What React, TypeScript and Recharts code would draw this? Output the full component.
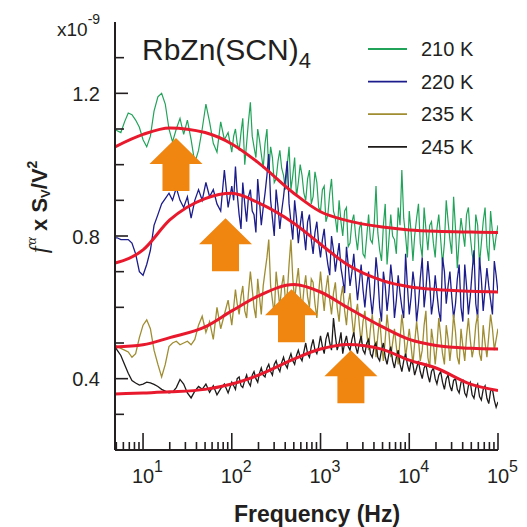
import React from 'react';
import { LineChart, Line, XAxis, YAxis, ReferenceDot, Customized } from 'recharts';

// ---- data ----
const FREQ = [
  4.83, 5.11, 5.62, 6.19, 6.81, 7.5, 8.25, 9.09,
  10, 11, 12.1, 13.3, 14.7, 16.2, 17.8, 19.6, 21.5, 23.7, 26.1, 28.7, 31.6, 34.8, 38.3, 42.2, 46.4, 51.1, 56.2, 61.9, 68.1, 75, 82.5, 90.9,
  100, 105, 110, 115, 121, 127, 133, 140, 147, 154, 162, 170, 178, 187, 196, 205, 215, 226, 237, 249, 261, 274, 287, 301,
  316, 332, 348, 365, 383, 402, 422, 442, 464, 487, 511, 536, 562, 590, 619, 649, 681, 715, 750, 787, 825, 866, 909, 953,
  1000, 1050, 1100, 1150, 1210, 1270, 1330, 1400, 1470, 1540, 1620, 1700, 1780, 1870, 1960, 2050, 2150, 2260, 2370, 2490, 2610, 2740, 2870, 3010,
  3160, 3320, 3480, 3650, 3830, 4020, 4220, 4420, 4640, 4870, 5110, 5360, 5620, 5900, 6190, 6490, 6810, 7150, 7500, 7870, 8250, 8660, 9090, 9530,
  10000, 10500, 11000, 11500, 12100, 12700, 13300, 14000, 14700, 15400, 16200, 17000, 17800, 18700, 19600, 20500, 21500, 22600, 23700, 24900, 26100, 27400, 28700, 30100,
  31600, 33200, 34800, 36500, 38300, 40200, 42200, 44200, 46400, 48700, 51100, 53600, 56200, 59000, 61900, 64900, 68100, 71500, 75000, 78700, 82500, 86600, 90900, 95300,
  100000,
];

const S210 = [
  1.10, 1.095, 1.09, 1.12, 1.145, 1.14, 1.125, 1.105,
  1.07, 1.05, 1.08, 1.15, 1.19, 1.20, 1.17, 1.10, 1.064, 1.10, 1.13, 1.085, 1.125, 1.07, 1.005, 1.04, 1.10, 1.17, 1.12, 1.06, 1.035, 1.12, 1.07, 1.09,
  1.035, 1.08, 1.10, 1.06, 1.04, 1.09, 1.13, 1.00, 1.06, 1.12, 1.175, 1.08, 1.05, 1.02, 1.10, 1.07, 1.03, 0.99, 1.06, 1.10, 0.98, 1.05, 1.02, 0.95,
  0.96, 1.01, 1.04, 0.99, 0.97, 0.93, 1.00, 1.05, 0.93, 0.97, 1.02, 0.91, 0.95, 1.00, 0.97, 0.92, 0.90, 0.96, 0.985, 0.89, 0.91, 0.98, 0.95, 0.88,
  0.87, 0.93, 0.94, 0.84, 0.86, 0.92, 0.96, 0.87, 0.85, 0.81, 0.90, 0.84, 0.80, 0.87, 0.88, 0.77, 0.78, 0.84, 0.86, 0.80, 0.76, 0.82, 0.84, 0.75,
  0.74, 0.80, 0.86, 0.79, 0.78, 0.83, 0.94, 0.81, 0.76, 0.73, 0.83, 0.89, 0.72, 0.79, 0.86, 0.80, 0.79, 0.75, 0.88, 0.83, 0.985, 0.85, 0.80, 0.74,
  0.87, 0.81, 0.73, 0.80, 0.85, 0.89, 0.78, 0.74, 0.88, 0.82, 0.76, 0.83, 0.84, 0.78, 0.74, 0.82, 0.86, 0.79, 0.72, 0.78, 0.90, 0.84, 0.79, 0.75,
  0.91, 0.82, 0.71, 0.79, 0.85, 0.81, 0.77, 0.86, 0.88, 0.80, 0.75, 0.72, 0.86, 0.83, 0.72, 0.78, 0.84, 0.88, 0.77, 0.73, 0.87, 0.81, 0.76, 0.80,
  0.83,
];

const S220 = [
  0.795, 0.795, 0.79, 0.79, 0.79, 0.78, 0.75, 0.70,
  0.69, 0.72, 0.76, 0.83, 0.86, 0.89, 0.905, 0.92, 0.90, 0.935, 0.90, 0.88, 0.91, 0.85, 0.90, 0.93, 0.90, 0.95, 0.91, 0.93, 0.89, 0.87, 0.985, 0.88,
  0.94, 0.90, 0.995, 0.92, 0.86, 0.82, 0.95, 0.89, 0.84, 0.91, 0.93, 0.87, 0.86, 0.81, 0.96, 0.90, 0.83, 0.88, 0.92, 0.97, 1.03, 0.90, 0.85, 0.80,
  0.93, 0.88, 0.82, 0.87, 0.91, 0.96, 1.01, 0.89, 0.84, 0.79, 0.90, 0.85, 0.78, 0.83, 0.87, 0.81, 0.76, 0.84, 0.86, 0.79, 0.75, 0.81, 0.84, 0.78,
  0.74, 0.79, 0.82, 0.76, 0.72, 0.69, 0.80, 0.76, 0.70, 0.74, 0.78, 0.71, 0.68, 0.64, 0.77, 0.72, 0.66, 0.70, 0.75, 0.68, 0.62, 0.67, 0.72, 0.65,
  0.60, 0.66, 0.70, 0.63, 0.58, 0.64, 0.74, 0.69, 0.60, 0.56, 0.70, 0.66, 0.59, 0.64, 0.72, 0.67, 0.57, 0.62, 0.69, 0.64, 0.60, 0.57, 0.75, 0.66,
  0.58, 0.63, 0.70, 0.66, 0.56, 0.61, 0.68, 0.74, 0.60, 0.65, 0.73, 0.67, 0.58, 0.62, 0.69, 0.64, 0.59, 0.56, 0.74, 0.70, 0.61, 0.66, 0.70, 0.63,
  0.57, 0.61, 0.68, 0.72, 0.60, 0.56, 0.72, 0.66, 0.58, 0.63, 0.70, 0.76, 0.61, 0.57, 0.74, 0.68, 0.59, 0.65, 0.71, 0.66, 0.62, 0.58, 0.73, 0.69,
  0.64,
];

const S235 = [
  0.495, 0.49, 0.485, 0.48, 0.475, 0.46, 0.47, 0.515,
  0.55, 0.565, 0.54, 0.48, 0.44, 0.405, 0.44, 0.49, 0.50, 0.505, 0.495, 0.50, 0.505, 0.495, 0.51, 0.55, 0.575, 0.53, 0.56, 0.51, 0.60, 0.54, 0.58, 0.62,
  0.55, 0.60, 0.65, 0.61, 0.58, 0.63, 0.66, 0.59, 0.57, 0.64, 0.70, 0.65, 0.60, 0.57, 0.68, 0.63, 0.58, 0.66, 0.70, 0.74, 0.79, 0.66, 0.62, 0.58,
  0.70, 0.65, 0.60, 0.66, 0.69, 0.62, 0.64, 0.72, 0.79, 0.68, 0.62, 0.67, 0.71, 0.64, 0.59, 0.65, 0.69, 0.63, 0.60, 0.68, 0.67, 0.61, 0.57, 0.64,
  0.70, 0.64, 0.59, 0.65, 0.69, 0.62, 0.58, 0.64, 0.67, 0.60, 0.56, 0.63, 0.66, 0.59, 0.55, 0.61, 0.64, 0.57, 0.52, 0.58, 0.61, 0.55, 0.50, 0.56,
  0.59, 0.53, 0.48, 0.54, 0.58, 0.52, 0.46, 0.52, 0.57, 0.50, 0.45, 0.51, 0.58, 0.53, 0.46, 0.50, 0.54, 0.49, 0.44, 0.51, 0.58, 0.53, 0.46, 0.50,
  0.54, 0.49, 0.44, 0.50, 0.56, 0.51, 0.45, 0.48, 0.55, 0.59, 0.46, 0.43, 0.54, 0.50, 0.44, 0.49, 0.57, 0.52, 0.47, 0.44, 0.55, 0.51, 0.45, 0.50,
  0.58, 0.53, 0.46, 0.44, 0.54, 0.49, 0.45, 0.52, 0.57, 0.51, 0.46, 0.49, 0.55, 0.58, 0.47, 0.45, 0.55, 0.50, 0.46, 0.52, 0.58, 0.54, 0.48, 0.51,
  0.54,
];

const S245 = [
  0.49, 0.48, 0.465, 0.44, 0.415, 0.395, 0.388, 0.382,
  0.385, 0.39, 0.388, 0.384, 0.378, 0.37, 0.365, 0.36, 0.362, 0.375, 0.398, 0.385, 0.36, 0.346, 0.365, 0.378, 0.37, 0.385, 0.362, 0.38, 0.355, 0.372, 0.385, 0.36,
  0.39, 0.38, 0.37, 0.40, 0.405, 0.38, 0.375, 0.395, 0.41, 0.39, 0.38, 0.41, 0.42, 0.40, 0.39, 0.415, 0.43, 0.41, 0.405, 0.43, 0.44, 0.42, 0.41, 0.44,
  0.45, 0.43, 0.42, 0.445, 0.46, 0.44, 0.43, 0.455, 0.47, 0.45, 0.44, 0.465, 0.48, 0.46, 0.45, 0.475, 0.50, 0.47, 0.46, 0.49, 0.51, 0.48, 0.47, 0.49,
  0.52, 0.49, 0.47, 0.51, 0.53, 0.50, 0.48, 0.57, 0.52, 0.48, 0.50, 0.53, 0.47, 0.50, 0.52, 0.49, 0.48, 0.51, 0.53, 0.49, 0.47, 0.50, 0.52, 0.48,
  0.47, 0.50, 0.51, 0.47, 0.46, 0.49, 0.50, 0.46, 0.45, 0.48, 0.50, 0.46, 0.44, 0.47, 0.49, 0.45, 0.43, 0.46, 0.48, 0.44, 0.42, 0.45, 0.47, 0.44,
  0.42, 0.45, 0.44, 0.41, 0.43, 0.45, 0.42, 0.40, 0.43, 0.44, 0.41, 0.39, 0.42, 0.43, 0.40, 0.385, 0.41, 0.42, 0.39, 0.37, 0.40, 0.41, 0.38, 0.365,
  0.395, 0.40, 0.37, 0.36, 0.39, 0.395, 0.36, 0.35, 0.38, 0.39, 0.355, 0.345, 0.375, 0.385, 0.35, 0.34, 0.37, 0.38, 0.345, 0.33, 0.365, 0.37, 0.34, 0.32,
  0.335,
];

const FIT_FREQ = [4.83, 10, 20, 50, 100, 200, 500, 1000, 2000, 5000, 10000, 20000, 50000, 100000];
const FIT210 = [1.05, 1.085, 1.103, 1.09, 1.058, 1.005, 0.92, 0.868, 0.843, 0.825, 0.817, 0.813, 0.811, 0.81];
const FIT220 = [0.724, 0.761, 0.845, 0.905, 0.92, 0.893, 0.836, 0.777, 0.72, 0.675, 0.658, 0.65, 0.645, 0.643];
const FIT235 = [0.489, 0.495, 0.515, 0.545, 0.59, 0.632, 0.664, 0.643, 0.60, 0.545, 0.51, 0.493, 0.485, 0.483];
const FIT245 = [0.357, 0.36, 0.363, 0.37, 0.385, 0.41, 0.455, 0.483, 0.496, 0.482, 0.452, 0.43, 0.384, 0.367];

const SERIES_NAMES = ['210 K', '220 K', '235 K', '245 K'];
const SERIES_COLORS = ['#22A35A', '#1C1C8C', '#A08D32', '#1E1A1A'];
const SERIES_WIDTHS = [1.2, 1.3, 1.3, 1.3];
const FIT_COLOR = '#E8192C';
const ARROW_COLOR = '#F0850F';

// arrow tips (frequency, value)
const ARROW_F = [23.5, 85, 471, 2200];
const ARROW_V = [1.075, 0.85, 0.651, 0.48];

const X_TICKS = [
  5, 6, 7, 8, 9, 10, 20, 30, 40, 50, 60, 70, 80, 90, 100, 200, 300, 400, 500, 600, 700, 800, 900,
  1000, 2000, 3000, 4000, 5000, 6000, 7000, 8000, 9000, 10000, 20000, 30000, 40000, 50000, 60000, 70000, 80000, 90000, 100000,
];
const Y_TICKS = [0.3, 0.4, 0.5, 0.6, 0.7, 0.8, 0.9, 1.0, 1.1, 1.2, 1.3];
const Y_LABELLED = [0.4, 0.8, 1.2];

const rows = FREQ.map((f, i) => ({ f, s210: S210[i], s220: S220[i], s235: S235[i], s245: S245[i] }));
const fitRows = FIT_FREQ.map((f, i) => ({ f, v210: FIT210[i], v220: FIT220[i], v235: FIT235[i], v245: FIT245[i] }));
const SERIES_KEYS = ['s210', 's220', 's235', 's245'];
const FIT_KEYS = ['v210', 'v220', 'v235', 'v245'];

const FONT = '"Liberation Sans", Arial, sans-serif';
const INK = '#231F20';

const XTick = (props: any) => {
  const { x, y, payload } = props;
  const v = payload.value as number;
  const lg = Math.log10(v);
  const exp = Math.round(lg);
  const major = Math.abs(lg - exp) < 1e-6;
  return (
    <g>
      <line x1={x} x2={x} y1={y} y2={y - (major ? 17 : 8)} stroke={INK} strokeWidth={1.6} />
      {major && (
        <text fontFamily={FONT} fill={INK}>
          <tspan x={x} y={y + 33} textAnchor="middle" fontSize={20}>10</tspan>
          <tspan x={x + 11} y={y + 22} fontSize={16}>{exp}</tspan>
        </text>
      )}
    </g>
  );
};

const YTick = (props: any) => {
  const { x, y, payload } = props;
  const v = payload.value as number;
  const labelled = Y_LABELLED.some((l) => Math.abs(l - v) < 1e-6);
  return (
    <g>
      <line x1={x} x2={x + (labelled ? 13 : 9)} y1={y} y2={y} stroke={INK} strokeWidth={1.6} />
      {labelled && (
        <text x={x - 15} y={y + 7.5} textAnchor="end" fontSize={20} fontFamily={FONT} fill={INK}>
          {v.toFixed(1)}
        </text>
      )}
    </g>
  );
};

const Arrow = (props: any) => {
  const { cx, cy } = props;
  if (cx == null || cy == null) return null;
  const pts = [
    [cx, cy],
    [cx + 26.5, cy + 26],
    [cx + 13.5, cy + 26],
    [cx + 13.5, cy + 53],
    [cx - 13.5, cy + 53],
    [cx - 13.5, cy + 26],
    [cx - 26.5, cy + 26],
  ]
    .map((p) => p.join(','))
    .join(' ');
  return <polygon points={pts} fill={ARROW_COLOR} />;
};

const Annotations = () => (
  <g fontFamily={FONT} fill={INK}>
    <text x={57} y={36} fontSize={19}>
      x10<tspan dy={-12} fontSize={14}>-9</tspan>
    </text>
    <text x={142} y={60} fontSize={30}>
      RbZn(SCN)<tspan dy={8} fontSize={22}>4</tspan>
    </text>
    {SERIES_NAMES.map((n, i) => (
      <g key={n}>
        <line x1={368} x2={407} y1={49 + i * 32.6} y2={49 + i * 32.6} stroke={SERIES_COLORS[i]} strokeWidth={1.8} />
        <text x={421} y={49 + i * 32.6 + 7} fontSize={20}>{n}</text>
      </g>
    ))}
    <text x={47} y={207} transform="rotate(-90 47 207)" textAnchor="middle" fontSize={22} fontWeight="bold">
      <tspan fontFamily='"Liberation Serif", serif' fontStyle="italic" fontWeight="normal" fontSize={25}>f</tspan>
      <tspan dx={2} dy={-11} fontSize={14} fontFamily='"Liberation Serif", serif' fontStyle="italic" fontWeight="normal">α</tspan>
      <tspan dy={11}> x S</tspan>
      <tspan dy={3} fontSize={13}>V</tspan>
      <tspan dy={-3}>/V</tspan>
      <tspan dy={-10} fontSize={14}>2</tspan>
    </text>
    <text x={317} y={522} textAnchor="middle" fontSize={23} fontWeight="bold">
      Frequency (Hz)
    </text>
  </g>
);

export default function App() {
  return (
    <div style={{ position: 'absolute', left: 0, top: 0, background: '#fff' }}>
      <LineChart width={527} height={527} margin={{ top: 22, right: 29, bottom: 0, left: 0 }}>
        <XAxis
          dataKey="f"
          type="number"
          scale="log"
          domain={[4.83, 100000]}
          allowDataOverflow
          ticks={X_TICKS}
          interval={0}
          tick={<XTick />}
          tickLine={false}
          tickSize={0}
          tickMargin={0}
          height={77}
          axisLine={{ stroke: INK, strokeWidth: 2 }}
        />
        <XAxis
          xAxisId="top"
          orientation="top"
          type="number"
          domain={[0, 1]}
          height={0}
          tick={false}
          tickLine={false}
          axisLine={{ stroke: INK, strokeWidth: 2 }}
        />
        <YAxis
          type="number"
          domain={[0.2, 1.4]}
          allowDataOverflow
          ticks={Y_TICKS}
          interval={0}
          tick={<YTick />}
          tickLine={false}
          tickSize={0}
          tickMargin={0}
          width={115}
          axisLine={{ stroke: INK, strokeWidth: 2 }}
        />
        <YAxis
          yAxisId="right"
          orientation="right"
          type="number"
          domain={[0, 1]}
          width={0}
          tick={false}
          tickLine={false}
          axisLine={{ stroke: INK, strokeWidth: 2 }}
        />
        {SERIES_KEYS.map((k, i) => (
          <Line key={k} data={rows} dataKey={k} name={SERIES_NAMES[i]} stroke={SERIES_COLORS[i]} strokeWidth={SERIES_WIDTHS[i]} dot={false} type="linear" isAnimationActive={false} />
        ))}
        {FIT_KEYS.map((k) => (
          <Line key={k} data={fitRows} dataKey={k} stroke={FIT_COLOR} strokeWidth={3} dot={false} type="monotone" isAnimationActive={false} />
        ))}
        {ARROW_F.map((f, i) => (
          <ReferenceDot key={i} x={f} y={ARROW_V[i]} r={1} shape={(p: any) => <Arrow {...p} />} />
        ))}
        <Customized component={Annotations} />
      </LineChart>
    </div>
  );
}
